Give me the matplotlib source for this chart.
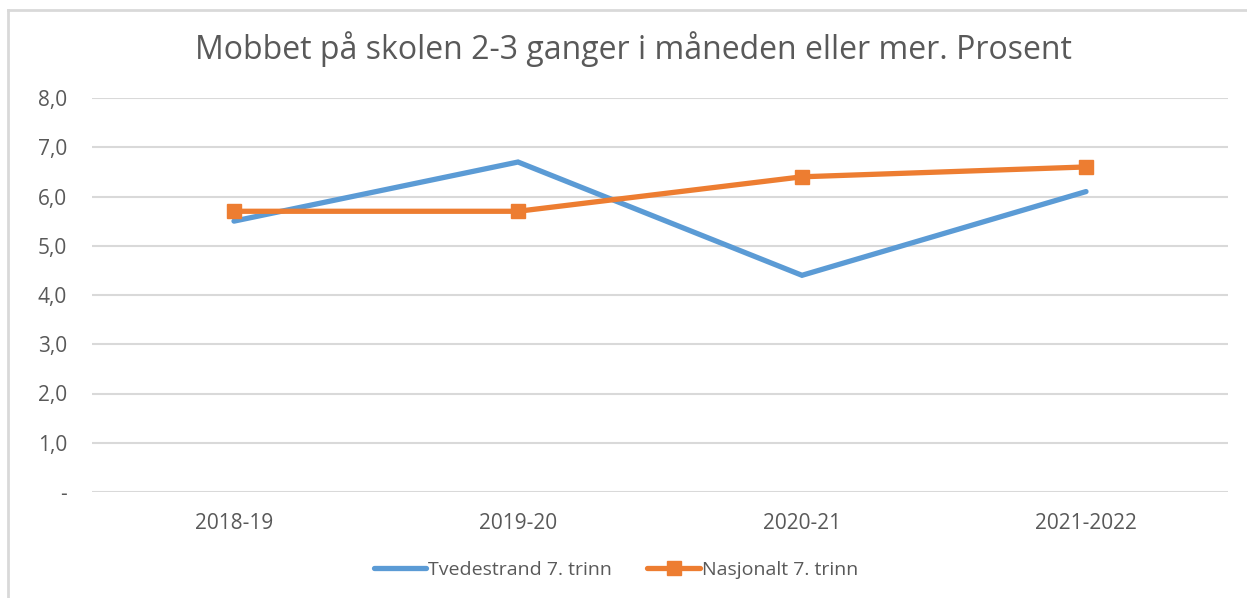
import matplotlib.pyplot as plt
from matplotlib.lines import Line2D

plt.rcParams['font.family'] = ['Open Sans', 'DejaVu Sans']

years = ['2018-19', '2019-20', '2020-21', '2021-2022']
tvedestrand = [5.5, 6.7, 4.4, 6.1]
nasjonalt = [5.7, 5.7, 6.4, 6.6]
yticks = [0, 1, 2, 3, 4, 5, 6, 7, 8]
ylabels = ['-', '1,0', '2,0', '3,0', '4,0', '5,0', '6,0', '7,0', '8,0']

grey = '#595959'
W, H = 1247, 598

fig = plt.figure(figsize=(W / 100, H / 100), dpi=100)
ax = fig.add_axes([92 / W, 106 / H, (1228 - 92) / W, (492 - 98) / H])

x = range(len(years))
ax.plot(x, tvedestrand, color='#5B9BD5', lw=3.8, solid_capstyle='round',
        solid_joinstyle='miter', label='Tvedestrand 7. trinn')
ax.plot(x, nasjonalt, color='#ED7D31', lw=3.8, marker='s', ms=10,
        solid_capstyle='round', label='Nasjonalt 7. trinn')

ax.set_xlim(-0.5, 3.5)
ax.set_ylim(0, 8)
ax.set_xticks(list(x))
ax.set_xticklabels(years)
ax.set_yticks(yticks)
ax.set_yticklabels(ylabels)
ax.tick_params(axis='both', length=0, labelsize=15, labelcolor=grey)
ax.tick_params(axis='x', pad=15)
ax.tick_params(axis='y', pad=18)
ax.grid(axis='y', color='#D9D9D9', lw=1.5)
ax.set_axisbelow(True)
for s in ax.spines.values():
    s.set_visible(False)

fig.text(633 / W, 1 - 49 / H, 'Mobbet på skolen 2-3 ganger i måneden eller mer. Prosent',
         ha='center', va='center', fontsize=23, color=grey)

ax.legend(loc='center', bbox_to_anchor=(616 / W, 1 - 570 / H),
          bbox_transform=fig.transFigure, ncol=2, frameon=False,
          fontsize=14, labelcolor=grey, handlelength=2.7, handletextpad=0.1,
          columnspacing=1.8)

# chart border (only top and left visible in the crop)
fig.add_artist(Line2D([7.5 / W, 1], [1 - 9.5 / H, 1 - 9.5 / H], color='#D9D9D9', lw=2))
fig.add_artist(Line2D([7.5 / W, 7.5 / W], [0, 1 - 9.5 / H], color='#D9D9D9', lw=2))

fig.savefig('out.png', dpi=100)
